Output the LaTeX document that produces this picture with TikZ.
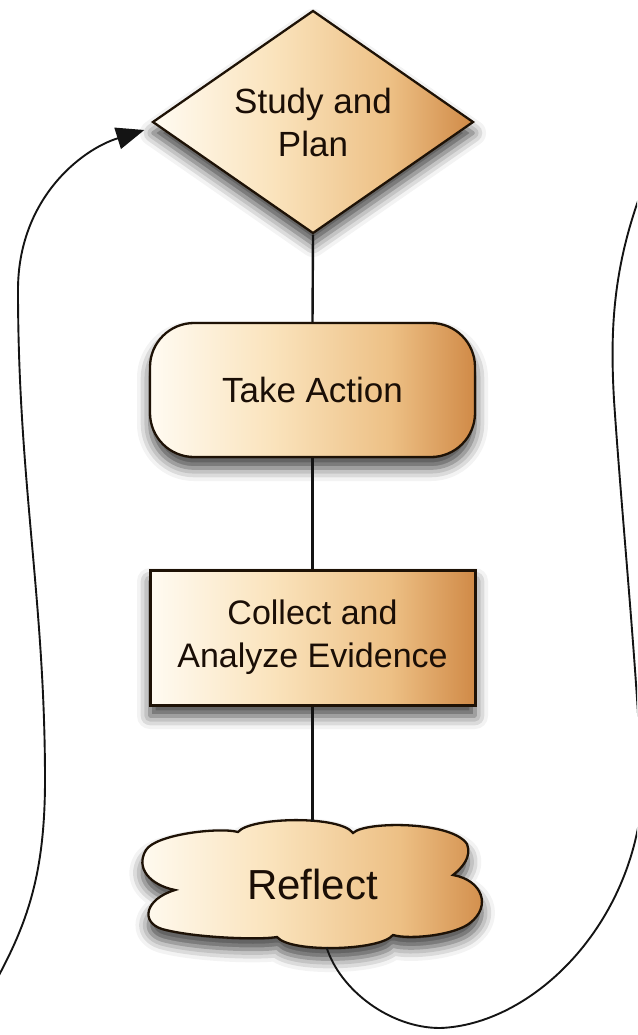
\documentclass[tikz,border=0pt]{standalone}
\usepackage{fontspec}
\setmainfont{Liberation Sans}
\usetikzlibrary{shapes.geometric,arrows.meta,shadows.blur}
\definecolor{tanA}{HTML}{FFFBF2}
\definecolor{tanB}{HTML}{FAE3BC}
\definecolor{tanC}{HTML}{EDC085}
\definecolor{tanD}{HTML}{D08A47}
\definecolor{edge}{HTML}{1E1206}
\definecolor{ink}{HTML}{1A0E06}
\definecolor{wire}{HTML}{141414}
\pgfdeclarehorizontalshading{tanshade}{100bp}{color(0bp)=(tanA); color(25bp)=(tanA); color(44bp)=(tanB); color(62bp)=(tanC); color(75bp)=(tanD); color(100bp)=(tanD)}
\tikzset{
  softshadow/.style={blur shadow={shadow xshift=0pt, shadow yshift=-11pt, shadow blur radius=13pt, shadow opacity=75}},
  shapebase/.style={draw=edge, line width=2.3pt, shading=tanshade, softshadow, text=ink, align=center, inner sep=0pt},
  diam/.style={shapebase, shape=diamond, aspect=1.44, minimum width=321pt, minimum height=223pt, font=\fontsize{35}{43}\selectfont},
  termbox/.style={shapebase, rectangle, rounded corners=44pt, minimum width=325pt, minimum height=134pt, font=\fontsize{35}{43}\selectfont},
  procbox/.style={shapebase, rectangle, line width=3pt, minimum width=325pt, minimum height=135pt, font=\fontsize{34}{43}\selectfont},
  cloudlabel/.style={rectangle, inner sep=0pt, minimum width=341pt, minimum height=126pt, text=ink, font=\fontsize{42}{48}\selectfont},
  cloudpath/.style={draw=edge, line width=2.3pt, shading=tanshade, softshadow},
  link/.style={draw=wire, line width=2.4pt},
  loopline/.style={draw=wire, line width=1.9pt},
}
\begin{document}
\begin{tikzpicture}[x=1pt,y=-1pt]
\useasboundingbox (0,0) rectangle (637,1035);
\clip (0,0) rectangle (637,1035);
% cloud outline for Reflect
\path[cloudpath] (238,832) .. controls (250,817) and (340,815) .. (353,833)
  .. controls (365,821) and (452,821) .. (467,844)
  .. controls (472,857) and (462,868) .. (453,875)
  .. controls (482,880) and (492,906) .. (470,923)
  .. controls (455,935) and (410,940) .. (393,935)
  .. controls (380,951) and (290,953) .. (277,937)
  .. controls (260,940) and (195,938) .. (162,929)
  .. controls (140,922) and (145,899) .. (175,890)
  .. controls (150,885) and (135,868) .. (146,850)
  .. controls (156,834) and (220,827) .. (238,832) -- cycle;
\node[diam] (study) at (313,122) {Study and\\Plan};
\node[termbox] (take) at (312.5,390) {Take Action};
\node[procbox] (collect) at (312.5,637.5) {Collect and\\Analyze Evidence};
\node[cloudlabel] (reflect) at (312.5,884) {Reflect};
\coordinate (rightout) at (650,170);
\coordinate (leftin) at (-12,995);
\draw[link] (study.south) -- (take.north);
\draw[link] (take.south) -- (collect.north);
\draw[link] (collect.south) -- (reflect.north);
\draw[loopline] ([xshift=14pt]reflect.south)
  .. controls (340,990) and (390,1028) .. (440,1028)
  .. controls (530,1025) and (630,930) .. (642,800)
  .. controls (640,700) and (622,520) .. (614,400)
  .. controls (610,330) and (612,260) .. (rightout);
\draw[loopline,-{Triangle[length=28pt,width=22pt]}] (leftin)
  .. controls (25,930) and (45,880) .. (45,780)
  .. controls (45,600) and (18,480) .. (18,290)
  .. controls (18,200) and (80,150) .. ([xshift=-7pt,yshift=-8pt]study.west);
\end{tikzpicture}
\end{document}
